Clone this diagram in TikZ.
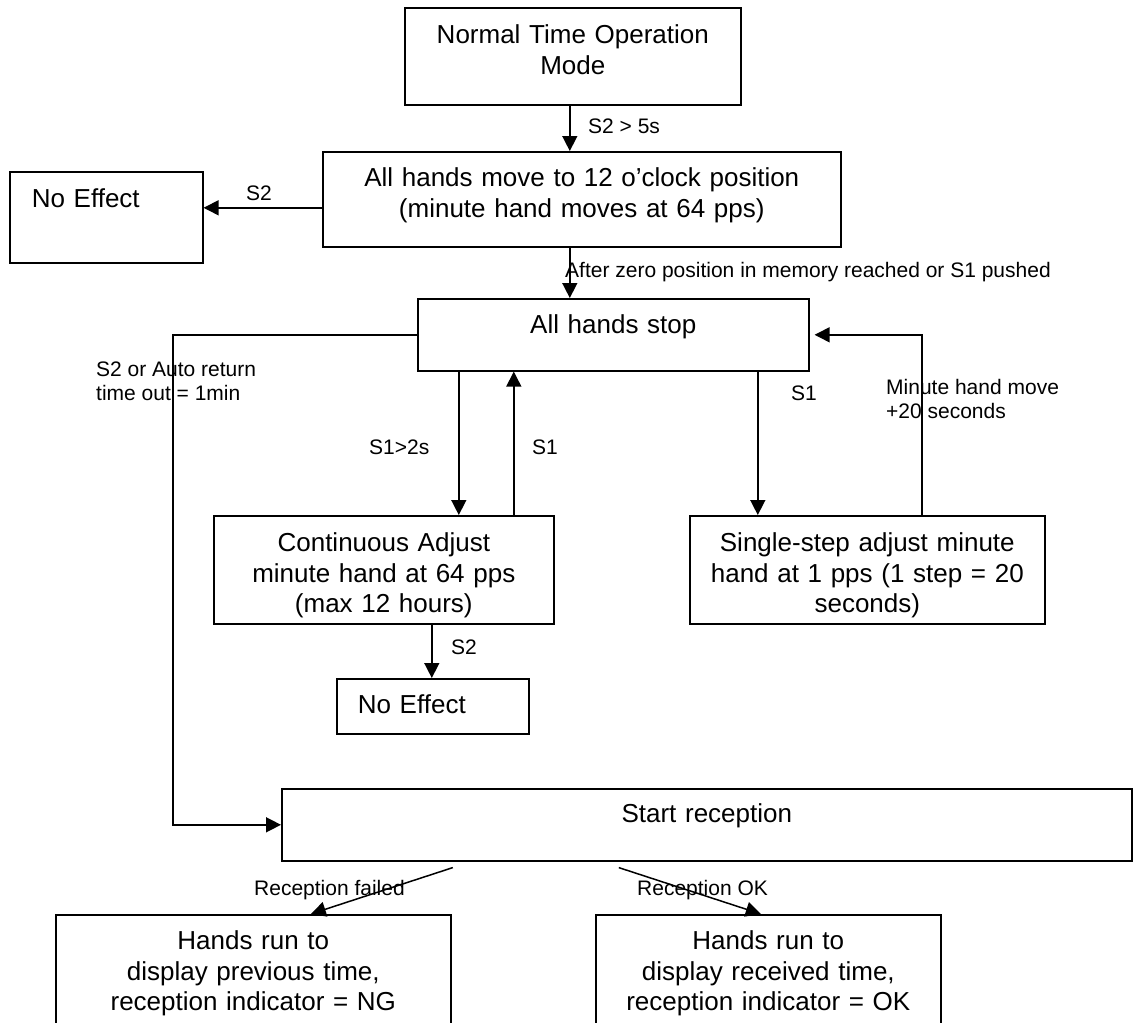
\documentclass[tikz,border=0pt]{standalone}
\usepackage{fontspec}
\setmainfont{Liberation Sans}
\usetikzlibrary{arrows.meta}
\newcommand{\boxtxt}{\fontsize{26}{30.5}\selectfont}
\newcommand{\labeltxt}{\fontsize{21}{24}\selectfont}
\tikzset{
	state/.style={draw, line width=1.6pt, inner sep=0pt, align=center, font=\boxtxt, anchor=north west},
	note/.style={font=\labeltxt, inner sep=0pt, anchor=base west, align=left},
	flow/.style={line width=1.5pt, -{Triangle[length=15pt,width=15pt]}}
}
\begin{document}
\begin{tikzpicture}[x=1pt,y=-1pt]
			\useasboundingbox (0,0) rectangle (1133,1023);
			\node [state, text width=336pt, text height=36pt, text depth=61pt] (normal) at (404,7) {Normal Time Operation\\Mode};
			\node [state, text width=518pt, text height=35pt, text depth=60pt] (zero) at (322,151) {All hands move to 12 o'clock position\\(minute hand moves at 64 pps)};
			\node [state, align=left, inner xsep=22pt, text width=149pt, text height=36pt, text depth=55pt] (noeffa) at (9,171) {No Effect};
			\node [state, text width=391pt, text height=35pt, text depth=37pt] (stop) at (417,298) {All hands stop};
			\node [state, text width=340pt, text height=36pt, text depth=72pt] (cont) at (213,515) {Continuous Adjust\\minute hand at 64 pps\\(max 12 hours)};
			\node [state, align=left, inner xsep=21pt, text width=150pt, text height=35pt, text depth=20pt] (noeffb) at (336,678) {No Effect};
			\node [state, text width=355pt, text height=36pt, text depth=72pt] (single) at (689,515) {Single-step adjust minute\\hand at 1 pps (1 step = 20\\seconds)};
			\node [state, text width=850pt, text height=34pt, text depth=38pt] (recv) at (281,788) {Start reception};
			\node [state, text width=395pt, text height=35pt, text depth=150pt] (fail) at (55,914) {Hands run to\\display previous time,\\reception indicator = NG};
			\node [state, text width=345pt, text height=35pt, text depth=150pt] (ok) at (595,914) {Hands run to\\display received time,\\reception indicator = OK};
			\draw [flow] ([xshift=-3pt]normal.south) -- ([xshift=-3pt]normal.south |- zero.north);
			\draw [flow] ([yshift=-8.5pt]zero.west) -- ([yshift=-8.5pt]zero.west -| noeffa.east);
			\draw [flow] ([xshift=-12pt]zero.south) -- ([xshift=-12pt]zero.south |- stop.north);
			\draw [flow] (stop.west) -- ++(-244,0) |- (recv.west);
			\draw [flow] ([xshift=-154.5pt]stop.south) -- ([xshift=-154.5pt]stop.south |- cont.north);
			\draw [flow] ([xshift=130pt]cont.north) -- ([xshift=130pt]cont.north |- stop.south);
			\draw [flow] ([xshift=48pt]cont.south) -- ([xshift=48pt]cont.south |- noeffb.north);
			\draw [flow] ([xshift=144.5pt]stop.south) -- ([xshift=144.5pt]stop.south |- single.north);
			\draw [flow] ([xshift=54.5pt]single.north) |- ([xshift=5pt]stop.east);
			\draw [flow] ([xshift=-254pt,yshift=-6pt]recv.south) -- ([xshift=57.5pt]fail.north);
			\draw [flow] ([xshift=-88pt,yshift=-6pt]recv.south) -- ([xshift=-7.5pt]ok.north);
			\node [note] (lbla) at (588,133) {S2 > 5s};
			\node [note] (lblb) at (246,200) {S2};
			\node [note] (lblc) at (565,277) {After zero position in memory reached or S1 pushed};
			\node [note] (lbld) at (96,400) {S2 or Auto return\\time out = 1min};
			\node [note] (lble) at (369,454) {S1>2s};
			\node [note] (lblf) at (532,454) {S1};
			\node [note] (lblg) at (451,654) {S2};
			\node [note] (lblh) at (791,400) {S1};
			\node [note] (lbli) at (886,418) {Minute hand move\\+20 seconds};
			\node [note] (lblj) at (254,895) {Reception failed};
			\node [note] (lblk) at (637,895) {Reception OK};
		\end{tikzpicture}
\end{document}
